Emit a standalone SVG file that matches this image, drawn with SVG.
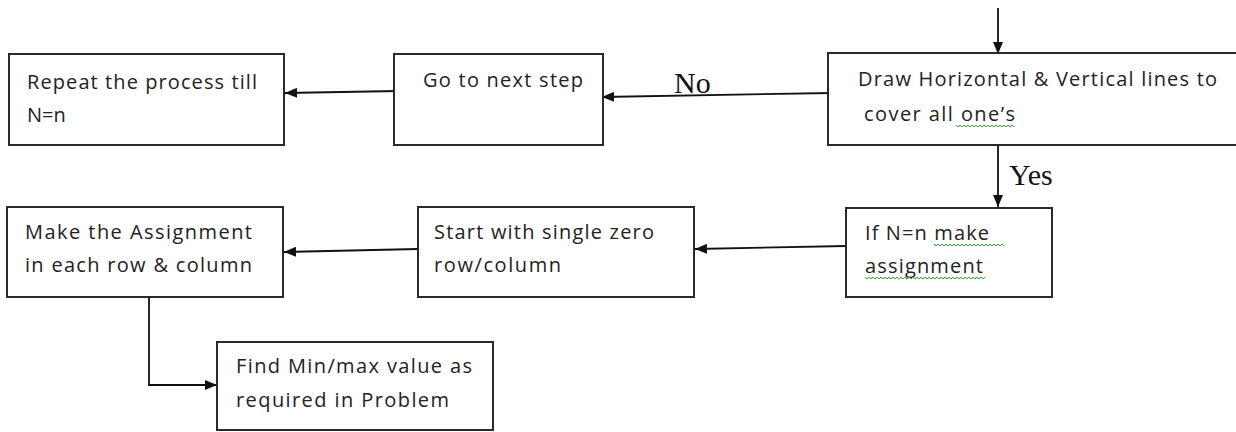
<svg xmlns="http://www.w3.org/2000/svg" width="1236" height="432" viewBox="0 0 1236 432">
<style>
.box{fill:#fff;stroke:#2a2a2a;stroke-width:2}
.t{font-family:"Open Sans","Liberation Sans",sans-serif;font-size:20px;fill:#222}
.lbl{font-family:"Liberation Serif","Times New Roman",serif;font-size:30px;fill:#111}
.c{fill:none;stroke:#111;stroke-width:1.8}
.sq{fill:none;stroke:#3a3;stroke-width:1}
</style>
<defs>
<marker id="ah" viewBox="0 0 12 10" refX="12" refY="5" markerWidth="12" markerHeight="10" markerUnits="userSpaceOnUse" orient="auto">
<path d="M0,0 L12,5 L0,10 Z" fill="#111"/>
</marker>
</defs>
<rect width="1236" height="432" fill="#fff"/>
<g id="connectors">
<line class="c" x1="998" y1="8" x2="998" y2="54" marker-end="url(#ah)"/>
<line class="c" x1="998" y1="145" x2="998" y2="207" marker-end="url(#ah)"/>
<line class="c" x1="832" y1="93" x2="602" y2="97" marker-end="url(#ah)"/>
<line class="c" x1="398" y1="91" x2="285" y2="93" marker-end="url(#ah)"/>
<line class="c" x1="846" y1="246" x2="695" y2="249" marker-end="url(#ah)"/>
<line class="c" x1="418" y1="249" x2="284" y2="252" marker-end="url(#ah)"/>
<polyline class="c" points="149,297 149,385 217,385" marker-end="url(#ah)"/>
<text class="lbl" x="674" y="93">No</text>
<text class="lbl" x="1009" y="185">Yes</text>
</g>
<g id="n1">
<rect class="box" x="9" y="54" width="275" height="91"/>
<text class="t" x="27" y="89" textLength="230" lengthAdjust="spacing">Repeat the process till</text>
<text class="t" x="27" y="122">N=n</text>
</g>
<g id="n2">
<rect class="box" x="394" y="54" width="209" height="91"/>
<text class="t" x="423" y="87" textLength="160" lengthAdjust="spacing">Go to next step</text>
</g>
<g id="n3">
<rect class="box" x="828" y="53" width="412" height="92"/>
<text class="t" x="858" y="86" textLength="359" lengthAdjust="spacing">Draw Horizontal &amp; Vertical lines to</text>
<text class="t" x="864" y="121" textLength="151" lengthAdjust="spacing">cover all one’s</text>
<path class="sq" d="M956,125 l2,2 l2,-2 l2,2 l2,-2 l2,2 l2,-2 l2,2 l2,-2 l2,2 l2,-2 l2,2 l2,-2 l2,2 l2,-2 l2,2 l2,-2 l2,2 l2,-2 l2,2 l2,-2 l2,2 l2,-2 l2,2 l2,-2 l2,2 l2,-2 l2,2 l2,-2 l2,2"/>
</g>
<g id="n4">
<rect class="box" x="846" y="208" width="206" height="89"/>
<text class="t" x="865" y="240" textLength="124" lengthAdjust="spacing">If N=n make</text>
<text class="t" x="865" y="273" textLength="118" lengthAdjust="spacing">assignment</text>
<path class="sq" d="M934,244 l2,2 l2,-2 l2,2 l2,-2 l2,2 l2,-2 l2,2 l2,-2 l2,2 l2,-2 l2,2 l2,-2 l2,2 l2,-2 l2,2 l2,-2 l2,2 l2,-2 l2,2 l2,-2 l2,2 l2,-2 l2,2 l2,-2 l2,2 l2,-2 l2,2 l2,-2 l2,2 l2,-2 l2,2 l2,-2 l2,2 l2,-2 l2,2"/>
<path class="sq" d="M865,277 l2,2 l2,-2 l2,2 l2,-2 l2,2 l2,-2 l2,2 l2,-2 l2,2 l2,-2 l2,2 l2,-2 l2,2 l2,-2 l2,2 l2,-2 l2,2 l2,-2 l2,2 l2,-2 l2,2 l2,-2 l2,2 l2,-2 l2,2 l2,-2 l2,2 l2,-2 l2,2 l2,-2 l2,2 l2,-2 l2,2 l2,-2 l2,2 l2,-2 l2,2 l2,-2 l2,2 l2,-2 l2,2 l2,-2 l2,2 l2,-2 l2,2 l2,-2 l2,2 l2,-2 l2,2 l2,-2 l2,2 l2,-2 l2,2 l2,-2 l2,2 l2,-2 l2,2 l2,-2 l2,2 l2,-2"/>
</g>
<g id="n5">
<rect class="box" x="418" y="207" width="276" height="90"/>
<text class="t" x="434" y="239" textLength="220" lengthAdjust="spacing">Start with single zero</text>
<text class="t" x="434" y="272" textLength="127" lengthAdjust="spacing">row/column</text>
</g>
<g id="n6">
<rect class="box" x="7" y="207" width="276" height="90"/>
<text class="t" x="25" y="239" textLength="227" lengthAdjust="spacing">Make the Assignment</text>
<text class="t" x="25" y="272" textLength="227" lengthAdjust="spacing">in each row &amp; column</text>
</g>
<g id="n7">
<rect class="box" x="217" y="342" width="276" height="88"/>
<text class="t" x="236" y="373" textLength="236" lengthAdjust="spacing">Find Min/max value as</text>
<text class="t" x="236" y="407" textLength="213" lengthAdjust="spacing">required in Problem</text>
</g>
</svg>
